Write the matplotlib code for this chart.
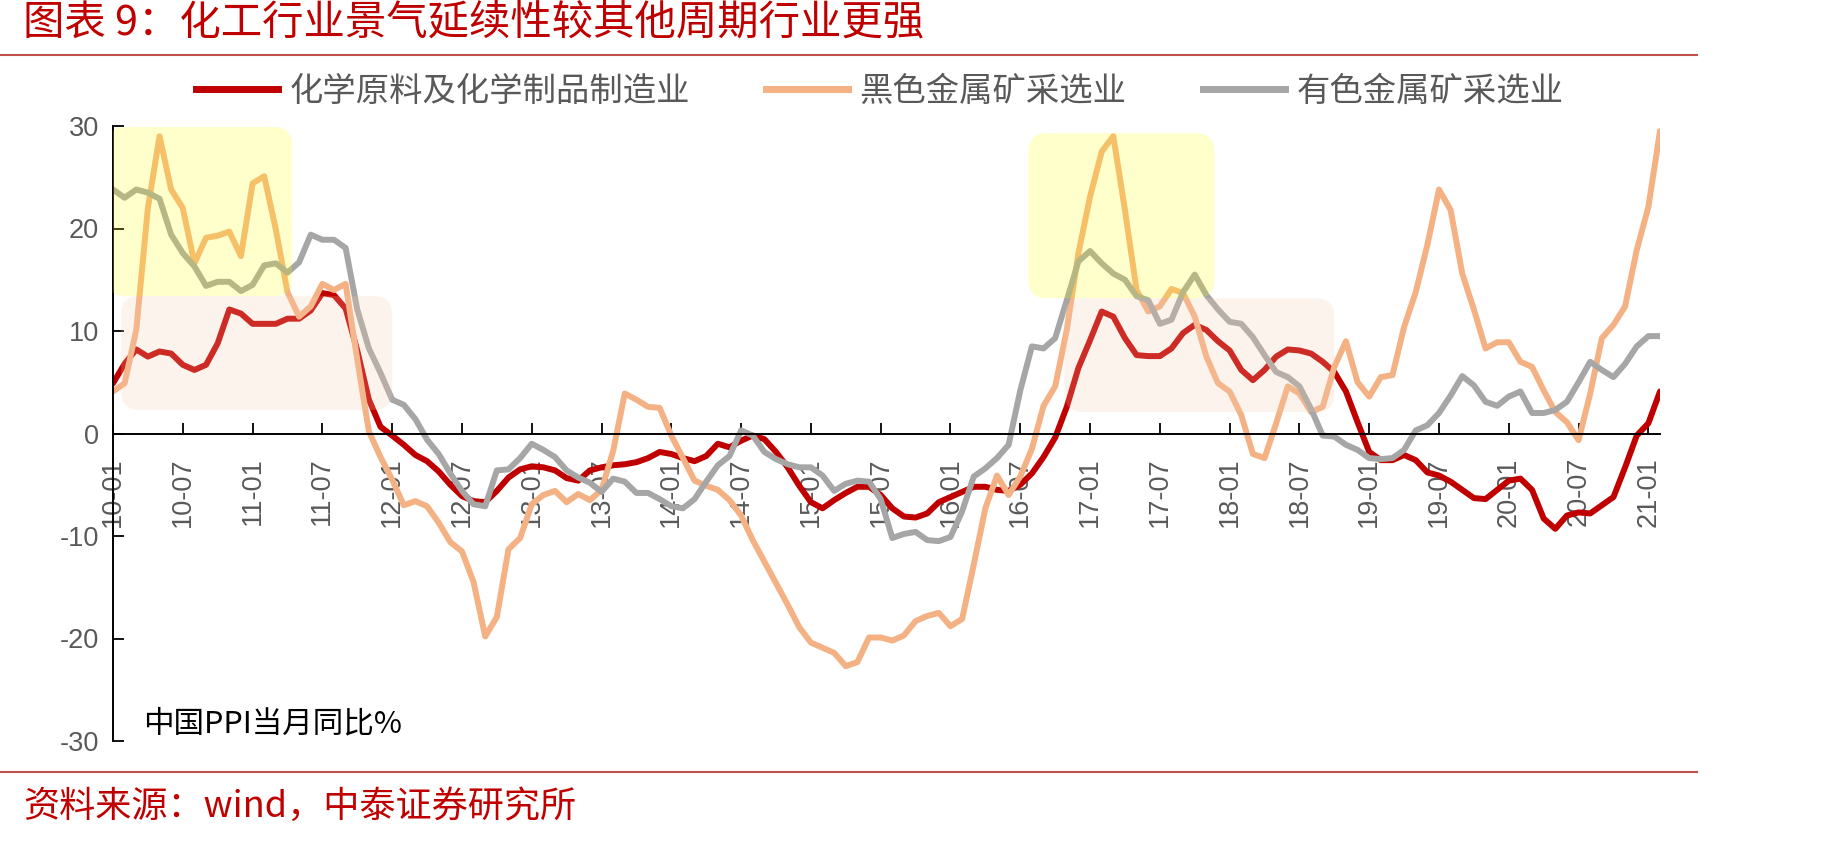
import numpy as np
import pandas as pd
import matplotlib
matplotlib.use("Agg")
import matplotlib.pyplot as plt
from matplotlib.patches import FancyBboxPatch
from matplotlib.lines import Line2D

plt.rcParams['font.family'] = ['Noto Sans CJK SC', 'DejaVu Sans']
plt.rcParams['axes.unicode_minus'] = False

# monthly PPI yoy, 2010-01 .. 2021-02
months = pd.date_range("2010-01-01", periods=134, freq="MS")

chem = [
    4.9, 6.8, 8.2, 7.5, 8.0, 7.8, 6.7, 6.2, 6.7, 8.8, 12.1, 11.7,
    10.7, 10.7, 10.7, 11.2, 11.2, 12.0, 13.7, 13.5, 12.2, 8.1, 3.3, 0.65,
    -0.2, -1.1, -2.1, -2.7, -3.7, -5.0, -6.1, -6.6, -6.7, -5.6, -4.3, -3.5,
    -3.2, -3.3, -3.6, -4.35, -4.6, -3.6, -3.3, -3.1, -3.0, -2.8, -2.4, -1.8,
    -2.0, -2.4, -2.7, -2.2, -1.0, -1.35, -0.7, -0.2, -0.55, -1.8, -3.3, -5.1,
    -6.7, -7.3, -6.5, -5.8, -5.2, -5.2, -6.0, -7.3, -8.1, -8.2, -7.8, -6.7,
    -6.2, -5.7, -5.2, -5.2, -5.5, -5.6, -5.0, -3.9, -2.3, -0.4, 2.6, 6.4,
    9.1, 11.9, 11.4, 9.3, 7.65, 7.55, 7.55, 8.3, 9.8, 10.6, 10.1, 9.0,
    8.1, 6.2, 5.2, 6.2, 7.5, 8.2, 8.1, 7.8, 7.0, 6.0, 4.1, 1.1,
    -1.8, -2.6, -2.6, -2.1, -2.6, -3.8, -4.1, -4.7, -5.5, -6.3, -6.4, -5.5,
    -4.6, -4.4, -5.5, -8.3, -9.3, -8.0, -7.7, -7.8, -7.0, -6.2, -3.3, -0.2,
    1.0, 4.1,
]

ferrous = [
    4.1, 4.9, 10.1, 22.0, 29.0, 23.8, 22.0, 16.6, 19.1, 19.3, 19.7, 17.3,
    24.4, 25.1, 19.9, 13.8, 11.4, 12.4, 14.6, 14.0, 14.6, 7.2, 0.2, -2.3,
    -4.5, -7.0, -6.6, -7.1, -8.7, -10.6, -11.5, -14.5, -19.8, -17.9, -11.3, -10.2,
    -6.9, -6.0, -5.6, -6.7, -5.9, -6.5, -5.5, -1.7, 3.9, 3.3, 2.6, 2.5,
    -0.2, -2.4, -4.6, -5.1, -5.5, -6.5, -8.0, -10.4, -12.5, -14.6, -16.7, -18.9,
    -20.4, -20.9, -21.4, -22.7, -22.3, -19.9, -19.9, -20.2, -19.7, -18.3, -17.8, -17.5,
    -18.8, -18.1, -12.8, -7.3, -4.1, -6.0, -4.2, -1.5, 2.7, 4.6, 10.1, 17.6,
    23.1, 27.5, 29.0, 21.8, 14.0, 11.9, 12.4, 14.1, 13.7, 11.4, 7.5, 4.9,
    4.1, 1.8, -2.0, -2.4, 1.0, 4.6, 3.9, 2.1, 2.6, 6.5, 9.0, 5.0,
    3.6, 5.5, 5.7, 10.4, 13.8, 18.4, 23.8, 21.8, 15.6, 12.1, 8.3, 8.9,
    8.9, 7.0, 6.5, 4.2, 2.1, 1.1, -0.65, 3.9, 9.3, 10.6, 12.4, 17.9,
    22.1, 29.5,
]

nonferrous = [
    23.8, 23.0, 23.8, 23.5, 22.9, 19.4, 17.6, 16.3, 14.4, 14.8, 14.8, 13.9,
    14.5, 16.4, 16.6, 15.7, 16.7, 19.4, 18.9, 18.9, 18.1, 12.1, 8.3, 5.9,
    3.3, 2.8, 1.4, -0.6, -2.0, -3.9, -5.6, -6.9, -7.1, -3.6, -3.5, -2.4,
    -1.0, -1.6, -2.3, -3.6, -4.3, -4.8, -5.7, -4.4, -4.7, -5.8, -5.8, -6.4,
    -7.1, -7.3, -6.4, -4.7, -3.1, -2.2, 0.3, -0.2, -1.8, -2.5, -3.0, -3.3,
    -3.3, -4.1, -5.6, -4.9, -4.6, -4.7, -6.4, -10.2, -9.8, -9.6, -10.4, -10.5,
    -10.1, -7.6, -4.2, -3.4, -2.4, -1.1, 4.2, 8.5, 8.3, 9.3, 13.0, 16.8,
    17.8, 16.6, 15.6, 15.0, 13.4, 13.0, 10.7, 11.1, 13.8, 15.5, 13.5, 12.1,
    10.9, 10.7, 9.4, 7.65, 6.0, 5.5, 4.6, 2.4, -0.2, -0.3, -1.1, -1.6,
    -2.4, -2.5, -2.4, -1.6, 0.3, 0.8, 2.0, 3.7, 5.6, 4.7, 3.1, 2.7,
    3.6, 4.1, 2.0, 2.0, 2.3, 3.1, 5.0, 7.0, 6.2, 5.5, 6.8, 8.5,
    9.5, 9.5,
]

series_names = ["化学原料及化学制品制造业", "黑色金属矿采选业", "有色金属矿采选业"]
series_colors = ["#C00000", "#F4B183", "#A6A6A6"]

# highlight boxes: (month start, month end, low, high)
yellow_boxes = [(-0.5, 15.4, 13.4, 29.9), (78.7, 94.7, 13.2, 29.3)]
pink_boxes = [(0.7, 24.0, 2.3, 13.4), (81.8, 105.0, 2.1, 13.2)]

title = "图表 9：化工行业景气延续性较其他周期行业更强"
source = "资料来源：wind，中泰证券研究所"
RED = "#C00000"
GREY_TXT = "#595959"

fig = plt.figure(figsize=(18.29, 8.41), dpi=100)
ax = fig.add_axes([113 / 1829, 100 / 841, 1547 / 1829, 615 / 841])

x = np.arange(len(months))
for vals, col in zip([chem, ferrous, nonferrous], series_colors):
    ax.plot(x, vals, color=col, lw=4.3, solid_joinstyle="round",
            solid_capstyle="round", zorder=2)

ax.set_xlim(0, len(months) - 1)
ax.set_ylim(-30, 30)

def add_box(x0, x1, y0, y1, color, alpha):
    p = FancyBboxPatch((x0, y0), x1 - x0, y1 - y0,
                       boxstyle="round,pad=0,rounding_size=1.6",
                       mutation_aspect=1.126, facecolor=color, alpha=alpha,
                       edgecolor="none", zorder=3)
    ax.add_patch(p)

for b in yellow_boxes:
    add_box(*b, "#FFFF00", 0.2)
for b in pink_boxes:
    add_box(*b, "#F8CBAD", 0.22)

# axes styling
for s in ["top", "right"]:
    ax.spines[s].set_visible(False)
ax.spines["bottom"].set_position(("data", 0))
ax.spines["bottom"].set_linewidth(1.4)
ax.spines["left"].set_linewidth(1.4)

ax.set_xticks(x[::6])
ax.set_xticklabels(months[::6].strftime("%y-%m"), rotation=90,
                   fontsize=19.5, color=GREY_TXT, family="Liberation Sans")
ax.set_yticks(np.arange(-30, 31, 10))
ax.set_yticklabels([str(v) for v in range(-30, 31, 10)],
                   fontsize=19.5, color=GREY_TXT, family="Liberation Sans")
ax.tick_params(axis="x", direction="in", length=8, width=1.3, pad=17)
ax.tick_params(axis="y", direction="in", length=8, width=1.3, pad=10)

handles = [Line2D([0], [0], color=c, lw=5) for c in series_colors]
fig.legend(handles, series_names, ncol=3, loc="center",
           bbox_to_anchor=(0.481, 1 - 91 / 841), frameon=False, fontsize=24,
           handlelength=2.46, handletextpad=0.33, columnspacing=2.3,
           labelcolor=GREY_TXT)

ax.text(143 / 1829, 1 - 724 / 841, "中国PPI当月同比%", transform=fig.transFigure,
        fontsize=22, color="black", va="center", ha="left")

# header / footer
fig.text(23 / 1829, 1 - 23 / 841, title, color=RED, fontsize=29.8,
         va="center", ha="left")
fig.text(23 / 1829, 1 - 807 / 841, source, color=RED, fontsize=26,
         va="center", ha="left")
for yy in [55, 772]:
    fig.add_artist(Line2D([0, 1697 / 1829], [1 - yy / 841] * 2,
                          color="#C0504D", lw=1.5, transform=fig.transFigure))

fig.savefig("out.png", dpi=100)
